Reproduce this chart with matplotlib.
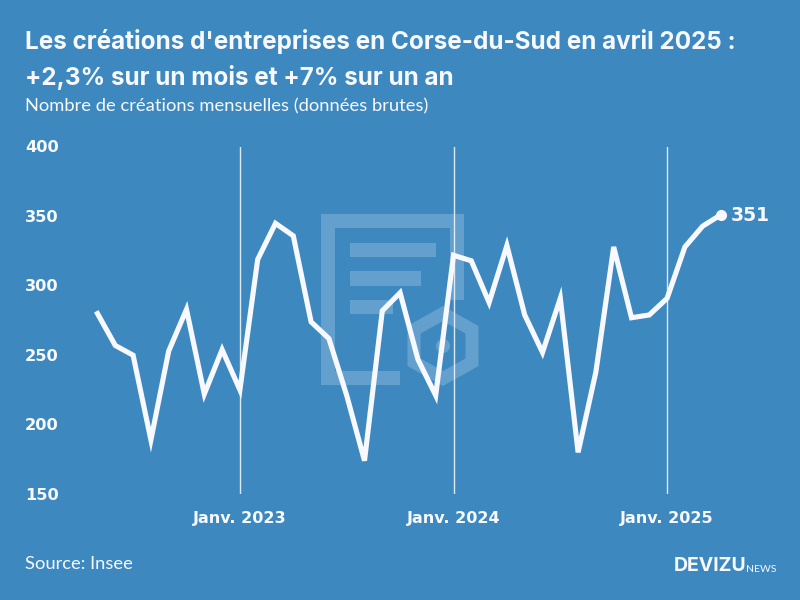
import matplotlib
matplotlib.use("Agg")
import matplotlib.pyplot as plt
from matplotlib.patches import Rectangle, Polygon, Circle
from matplotlib.transforms import ScaledTranslation
import numpy as np

values = [280, 257, 250, 189, 253, 283, 222, 254,
          225, 319, 345, 336, 274, 262, 221, 174, 282, 295, 247, 221,
          322, 318, 288, 329, 279, 252, 291, 180, 238, 328, 277, 279,
          291, 328, 343, 351]
months = list(range(len(values)))
year_ticks = [8, 20, 32]
year_labels = ["Janv. 2023", "Janv. 2024", "Janv. 2025"]
y_ticks = [150, 200, 250, 300, 350, 400]

BG = "#3D89BF"
FG = "#F8F8FF"
WM = "#64A0CD"
BOLD = "Inter"
LIGHT = "Lato"
WIDE = "DejaVu Sans"

plt.rcParams["font.family"] = [BOLD, "DejaVu Sans"]
fig = plt.figure(figsize=(8, 6), dpi=100, facecolor=BG)

bg = fig.add_axes([0, 0, 1, 1], zorder=0)
bg.set_xlim(0, 800)
bg.set_ylim(600, 0)
bg.axis("off")
for x, y, w, h in [(321, 214, 143, 14), (321, 214, 14, 171), (321, 371, 79, 14),
                   (450, 214, 14, 86), (350, 243, 86, 14), (350, 271, 71, 15),
                   (350, 300, 43, 14)]:
    bg.add_patch(Rectangle((x, y), w, h, fc=WM, ec="none"))
cx, cy = 443, 346
ang = np.deg2rad(np.arange(30, 390, 60))
bg.add_patch(Polygon(np.c_[cx + 41 * np.cos(ang), cy + 40 * np.sin(ang)], fc=WM, ec="none"))
bg.add_patch(Polygon(np.c_[cx + 26 * np.cos(ang), cy + 25 * np.sin(ang)], fc=BG, ec="none"))
bg.add_patch(Circle((cx, cy), 7, fc=WM, ec="none"))

ax = fig.add_axes([97.5 / 800, (600 - 494) / 600, 623 / 800, (494 - 147) / 600], zorder=1)
ax.patch.set_alpha(0)
ax.set_xlim(0, 35)
ax.set_ylim(150, 400)
for s in ax.spines.values():
    s.set_visible(False)
for x in year_ticks:
    ax.axvline(x, color="#DCE9F3", lw=1, zorder=1)
ax.plot(months, values, color=FG, lw=3.7, solid_joinstyle="miter", zorder=3, clip_on=False)
ax.plot(months[-1], values[-1], "o", color=FG, ms=7, zorder=4, clip_on=False)
ax.annotate(str(values[-1]), (months[-1], values[-1]), xytext=(7.5, 0), textcoords="offset points",
            color=FG, fontsize=13.5, fontweight="bold", family=WIDE, va="center", ha="left")

ax.set_yticks(y_ticks)
ax.set_yticklabels([str(v) for v in y_ticks], ha="left", color=FG, fontsize=11.7,
                   fontweight="bold", family=WIDE)
ax.tick_params(axis="y", length=0, pad=52.2)
shift = ScaledTranslation(0, 0.5 / 100, fig.dpi_scale_trans)
for t in ax.yaxis.get_major_ticks():
    t.label1.set_transform(t.label1.get_transform() + shift)
ax.set_xticks(year_ticks)
ax.set_xticklabels(year_labels, color=FG, fontsize=11.5, fontweight="bold", family=WIDE)
ax.tick_params(axis="x", length=0, pad=12.5)

fig.text(25 / 800, 1 - 42 / 600, "Les créations d'entreprises en Corse-du-Sud en avril 2025 :",
         color=FG, fontsize=17.45, fontweight="bold", va="center", ha="left")
fig.text(25 / 800, 1 - 77 / 600, "+2,3% sur un mois et +7% sur un an",
         color=FG, fontsize=17.45, fontweight="bold", va="center", ha="left")
fig.text(25 / 800, 1 - 106 / 600, "Nombre de créations mensuelles (données brutes)",
         color=FG, fontsize=13.2, family=[LIGHT, "DejaVu Sans"], va="center", ha="left")
fig.text(25 / 800, 1 - 564 / 600, "Source: Insee", color=FG, fontsize=13.2,
         family=[LIGHT, "DejaVu Sans"], va="center", ha="left")
fig.text(746 / 800, 1 - 566 / 600, "DEVIZU", color=FG, fontsize=14, fontweight="bold",
         va="center", ha="right")
fig.text(776 / 800, 1 - 570 / 600, "NEWS", color=FG, fontsize=7.5,
         family=[LIGHT, "DejaVu Sans"], va="center", ha="right")

fig.savefig("out.png", dpi=100, facecolor=BG)
